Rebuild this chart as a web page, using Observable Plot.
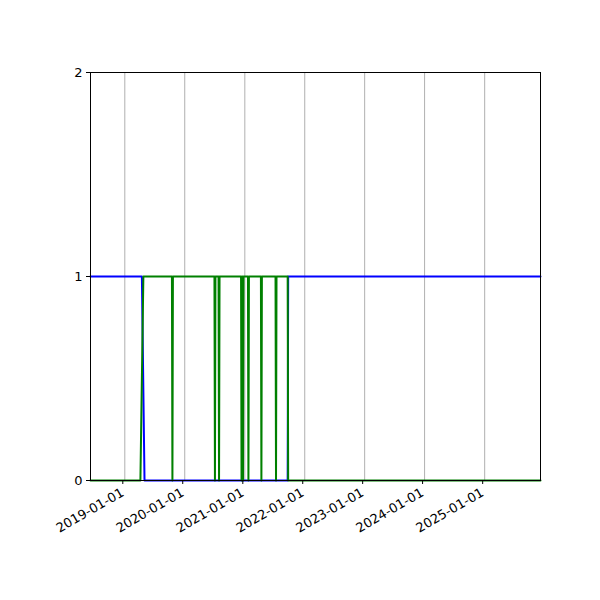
<!DOCTYPE html>
<html><head><meta charset="utf-8">
<script src="https://cdn.jsdelivr.net/npm/d3@7"></script>
<script src="https://cdn.jsdelivr.net/npm/@observablehq/plot@0.6"></script>
<style>body{margin:0;background:#fff} svg{font-family:"DejaVu Sans"}</style>
</head><body><div id="chart"></div>
<script>
// x extent of the axes
const xStart = "2018-06-06";
const xEnd = "2025-12-07";

// x tick labels
const xTickLabels = ["2019-01-01","2020-01-01","2021-01-01","2022-01-01","2023-01-01","2024-01-01","2025-01-01"];
// y ticks
const yTicks = [0, 1, 2];

// green series (state indicator with short dips)
const greenDates = [
  "2018-06-06","2019-04-06","2019-04-24",
  "2019-10-15","2019-10-18","2019-10-21",
  "2020-06-30","2020-07-03","2020-07-06",
  "2020-07-25","2020-07-28","2020-07-31",
  "2020-12-09","2020-12-12","2020-12-15",
  "2020-12-18","2020-12-21","2020-12-24",
  "2021-01-20","2021-01-23","2021-01-26",
  "2021-04-09","2021-04-12","2021-04-15",
  "2021-07-07","2021-07-10","2021-07-13",
  "2021-09-16","2021-09-19","2021-09-22","2025-12-07"
];
const greenValues = [
  0,0,1,
  1,0,1,
  1,0,1,
  1,0,1,
  1,0,1,
  1,0,1,
  1,0,1,
  1,0,1,
  1,0,1,
  1,1,0,0
];

// blue series
const blueDates = ["2018-06-06","2019-04-15","2019-05-01","2021-09-19","2021-09-22","2025-12-07"];
const blueValues = [1,1,0,0,1,1];

const parse = d3.utcParse("%Y-%m-%d");
const green = greenDates.map((d,i)=>({date:parse(d), value:greenValues[i]}));
const blue = blueDates.map((d,i)=>({date:parse(d), value:blueValues[i]}));
const xTicks = xTickLabels.map(parse);

const plot = Plot.plot({
  width:600, height:600,
  marginLeft:90, marginRight:60, marginTop:72, marginBottom:120,
  style:{fontFamily:"DejaVu Sans", fontSize:"13px", background:"white", color:"black"},
  x:{type:"utc", domain:[parse(xStart), parse(xEnd)]},
  y:{domain:[0,2]},
  marks:[
    Plot.gridX(xTicks, {stroke:"#b0b0b0", strokeOpacity:1, strokeWidth:1}),
    Plot.line(blue, {x:"date", y:"value", stroke:"blue", strokeWidth:2}),
    Plot.line(green, {x:"date", y:"value", stroke:"green", strokeWidth:2}),
    Plot.frame({stroke:"black", strokeWidth:1}),
    Plot.axisY({ticks:yTicks, tickSize:4, tickPadding:4, label:null, tickFormat:d=>String(d)}),
    Plot.axisX({ticks:xTicks, tickFormat:d3.utcFormat("%Y-%m-%d"), tickRotate:-30, tickSize:4, tickPadding:7, dx:-2, label:null})
  ]
});
document.getElementById("chart").appendChild(plot);
</script>
</body></html>
